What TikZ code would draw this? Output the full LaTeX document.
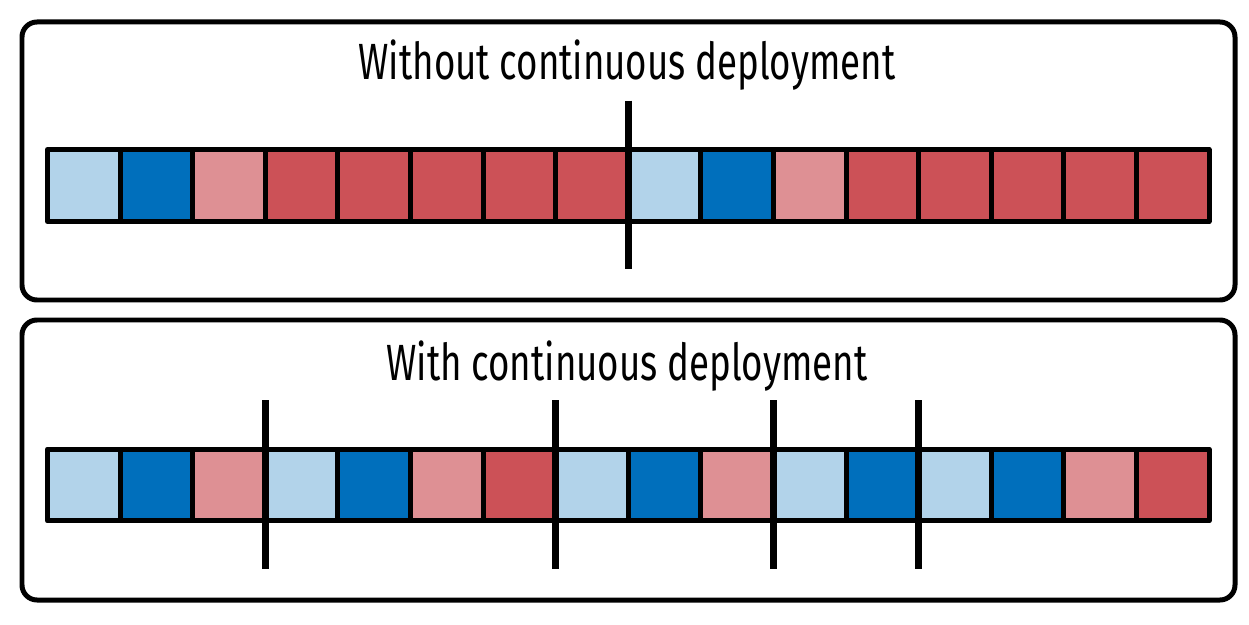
\documentclass[tikz,border=0pt]{standalone}
\usepackage{xcolor}
\usepackage{fontspec}
\usepackage{tikz}
\usetikzlibrary{calc}
\newfontfamily\headfont[FakeStretch=0.72]{Fira Sans}
\definecolor{ColPale}{RGB}{178,211,234}
\definecolor{ColBlue}{RGB}{0,111,188}
\definecolor{ColRose}{RGB}{222,144,148}
\definecolor{ColRed}{RGB}{204,81,87}

\begin{document}
\begin{tikzpicture}[
  x=0.02cm, y=-0.02cm,
  line join=round,
  cell/.style={draw=black, line width=0.1cm, minimum width=1.452cm,
    minimum height=1.44cm, inner sep=0pt, outer sep=0pt},
  panel/.style={draw=black, line width=0.1cm, rounded corners=0.3cm},
  release/.style={draw=black, line width=0.15cm},
  heading/.style={anchor=base, inner sep=0pt,
    font=\headfont\fontsize{29}{34}\selectfont}
]
  \useasboundingbox (0,0) rectangle (1249,625);

  % Two framed panels
  \draw[panel] (22,22)  rectangle (1235,300);
  \draw[panel] (22,320) rectangle (1235,600);

  \node[heading] (headTop) at (627,80)  {Without continuous deployment};
  \node[heading] (headBot) at (627,380) {With continuous deployment};

  % Upper strip of work items
  \foreach \c [count=\i] in {ColPale,ColBlue,ColRose,ColRed,ColRed,ColRed,ColRed,ColRed,
                             ColPale,ColBlue,ColRose,ColRed,ColRed,ColRed,ColRed,ColRed}{
    \node[cell, fill=\c] (top\i) at ({47.5+72.6*(\i-0.5)}, 185.5) {};
  }

  % Lower strip of work items
  \foreach \c [count=\i] in {ColPale,ColBlue,ColRose,ColPale,ColBlue,ColRose,ColRed,ColPale,
                             ColBlue,ColRose,ColPale,ColBlue,ColPale,ColBlue,ColRose,ColRed}{
    \node[cell, fill=\c] (bot\i) at ({47.5+72.6*(\i-0.5)}, 485) {};
  }

  % Release marks
  \coordinate (relTopA) at ($(top8.north east)+(0,-49)$);
  \coordinate (relTopB) at ($(top8.south east)+(0,48)$);
  \draw[release] (relTopA) -- (relTopB);

  \foreach \k in {3,7,10,12}{
    \coordinate (relA\k) at ($(bot\k.north east)+(0,-49)$);
    \coordinate (relB\k) at ($(bot\k.south east)+(0,48)$);
    \draw[release] (relA\k) -- (relB\k);
  }
\end{tikzpicture}
\end{document}
